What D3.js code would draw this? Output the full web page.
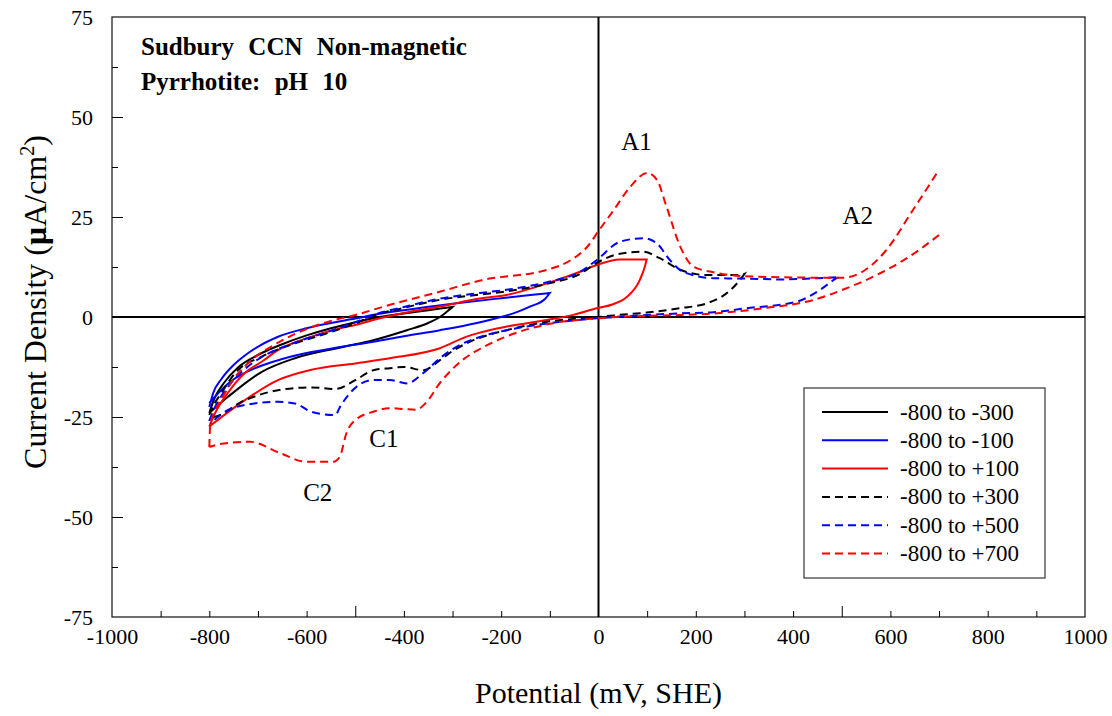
<!DOCTYPE html>
<html>
<head>
<meta charset="utf-8">
<script src="https://cdn.jsdelivr.net/npm/d3@7"></script>
<style>
  body { margin: 0; background: #fff; }
  svg text { font-family: "Liberation Serif", "Times New Roman", serif; fill: #000; }
</style>
</head>
<body>
<div id="chart"></div>
<script>
// cyclic voltammograms, potential (mV SHE) vs current density (uA/cm2)
// each sweep starts at -800, goes up to the limit, then comes back
const E_300 = [-800, -790, -770, -740, -700, -650, -600, -550, -500, -450, -400, -350, -300,
               -310, -326, -350, -394, -463, -530, -624, -692, -761, -800];
const I_300 = [-24, -20.5, -16.5, -12.5, -9.5, -6.8, -4.6, -2.8, -1.3, 0, 0.9, 1.7, 2.5,
               1.5, 0, -1.5, -3.3, -5.8, -7.6, -10.3, -13.7, -19.9, -24];

const E_100n = [-800, -792, -775, -750, -720, -660, -600, -550, -500, -450, -400, -300, -200, -140, -100,
                -110, -141, -175, -210, -250, -326, -400, -463, -531, -600, -650, -700, -760, -800];
const I_100n = [-22.5, -19, -15.5, -12, -9, -5, -2.8, -1.5, -0.4, 0.8, 1.7, 3.3, 4.7, 5.5, 6,
                4.5, 2.6, 0.9, -0.3, -1.5, -3.3, -4.8, -6.2, -7.5, -9, -10.5, -12.5, -16.5, -21.5];

const E_100p = [-800, -788, -762, -727, -690, -659, -590, -531, -500, -463, -400, -326, -244, -189, -106, -38, -4, 44, 99,
                95, 85, 58, 30, -4, -50, -106, -189, -244, -271, -326, -429, -500, -590, -659, -727, -800];
const I_100p = [-27.4, -24, -19, -14, -11, -8.3, -4.9, -2.8, -2, -0.75, 1, 2.6, 4.6, 5.5, 8.4, 11.3, 13, 14.4, 14.4,
                12.5, 9.3, 5, 3.2, 2.2, 0.6, -0.75, -2.4, -3.9, -4.9, -7.8, -10.3, -11.6, -13.2, -15.8, -20.8, -27.4];

const E_300p = [-800, -795, -775, -747, -692, -624, -556, -500, -463, -400, -326, -244, -189, -106, -38, -4, 44, 92, 126, 168, 222, 291, 300,
                291, 263, 222, 168, 99, 30, 0, -106, -189, -257, -300, -326, -360, -400, -429, -463, -500, -541, -590, -659, -727, -795, -800];
const I_300p = [-24.5, -23, -19, -14, -9.9, -6.6, -4, -1.6, 0.3, 2.3, 4.3, 5.6, 6.4, 8.3, 10.8, 13.5, 15.8, 16.3, 14.7, 11.8, 10.5, 10.5, 10.8,
                9.3, 5.9, 3.4, 2.2, 1.1, 0.4, 0, -1.2, -3.3, -5.8, -8.5, -10.8, -13.3, -12.5, -12.8, -13.3, -15.8, -18, -17.6, -18.3, -20.8, -25, -25];

const E_500p = [-800, -790, -762, -727, -692, -624, -556, -500, -463, -400, -326, -244, -189, -106, -38, -4, 44, 92, 120, 147, 174, 236, 305, 373, 450, 496,
                490, 455, 407, 305, 236, 168, 99, 0, -106, -189, -244, -291, -326, -360, -394, -429, -463, -497, -531, -541, -590, -624, -659, -727, -762, -798];
const I_500p = [-26, -23, -17.5, -13, -10, -6.4, -3.7, -1.3, 0.5, 2.5, 4.6, 6, 6.8, 8.7, 11.3, 14.2, 18.8, 19.7, 18.4, 14.2, 11.3, 9.7, 9.6, 9.4, 9.7, 10,
                9.7, 6.75, 3.8, 2.2, 1.2, 0.9, 0.5, -0.3, -1.6, -3.3, -5, -7.4, -10.3, -14, -16.6, -15.75, -15.75, -17.4, -22.4, -24.5, -23.7, -21.6, -21.2, -22, -23.3, -26.6];

const E_700p = [-800, -798, -790, -770, -750, -720, -660, -600, -550, -500, -430, -330, -240, -100, -60, -20, 0, 30, 65, 100, 120, 140, 168, 195, 236, 300, 400, 500, 545, 590, 645, 700,
                700, 650, 580, 510, 440, 340, 250, 168, 100, 0, -100, -190, -244, -280, -326, -355, -375, -400, -430, -463, -497, -518, -532, -545, -600, -655, -716, -770, -800];
const I_700p = [-32.5, -27, -24, -19.5, -15.5, -11.5, -6.5, -3, -1, 0.5, 3, 6.2, 9.2, 12, 14, 18, 21.5, 26.5, 32.5, 36, 34.3, 27.5, 17.6, 12.6, 11.2, 10.2, 9.9, 9.8, 11.5, 16.5, 26.5, 36.8,
                20.5, 16, 11, 7.2, 4.2, 2.2, 1, 0.5, 0.3, -0.3, -1.7, -4.9, -8, -10.8, -16.5, -21.5, -23.2, -23, -22.8, -23.7, -25.5, -29, -35, -36.2, -36.2, -34, -31.2, -31.6, -32.5];

const seriesNames = ['-800 to -300', '-800 to -100', '-800 to +100', '-800 to +300', '-800 to +500', '-800 to +700'];
const seriesE = [E_300, E_100n, E_100p, E_300p, E_500p, E_700p];
const seriesI = [I_300, I_100n, I_100p, I_300p, I_500p, I_700p];
const seriesColor = ['#000000', '#0000ff', '#ff0000', '#000000', '#0000ff', '#ff0000'];
const seriesDashed = [false, false, false, true, true, true];

const xTickLabels = [-1000, -800, -600, -400, -200, 0, 200, 400, 600, 800, 1000];
const yTickLabels = [-75, -50, -25, 0, 25, 50, 75];
const peakNames = ['A1', 'A2', 'C1', 'C2'];
const peakE = [78, 533, -441, -577];
const peakI = [44, 25.5, -30.3, -43.8];

const serif = '"Liberation Serif", "Times New Roman", serif';

var chart = {
  width: 1112,
  height: 716,
  left: 112,
  right: 1085,
  top: 17,
  bottom: 617,
};

const x = d3.scaleLinear().domain([-1000, 1000]).range([chart.left, chart.right]);
const y = d3.scaleLinear().domain([-75, 75]).range([chart.bottom, chart.top]);

const svg = d3.select('#chart')
              .append('svg')
              .attr('width', chart.width)
              .attr('height', chart.height)
              .attr('font-family', serif);

// frame
svg.append('rect')
   .attr('x', chart.left)
   .attr('y', chart.top)
   .attr('width', chart.right - chart.left)
   .attr('height', chart.bottom - chart.top)
   .attr('fill', 'none')
   .attr('stroke', '#222')
   .attr('stroke-width', 1.3);

// minor and major ticks, pointing inward
const xMinor = d3.range(-900, 1000, 100).filter(v => v % 500 !== 0);
const xMajor = [-500, 500];
svg.append('g')
   .attr('transform', `translate(0, ${chart.bottom})`)
   .call(d3.axisBottom(x).tickValues(xMinor).tickSize(-6).tickFormat(''))
   .call(g => g.select('.domain').remove());
svg.append('g')
   .attr('transform', `translate(0, ${chart.bottom})`)
   .call(d3.axisBottom(x).tickValues(xMajor).tickSize(-11).tickFormat(''))
   .call(g => g.select('.domain').remove());
svg.append('g')
   .attr('transform', `translate(0, ${chart.bottom})`)
   .call(d3.axisBottom(x).tickValues(xTickLabels).tickSize(0).tickPadding(11).tickFormat(d => String(d)))
   .call(g => g.select('.domain').remove())
   .attr('font-family', serif)
   .attr('font-size', 22);

const yMinor = d3.range(-62.5, 75, 25);
const yMajor = [-50, -25, 25, 50];
svg.append('g')
   .attr('transform', `translate(${chart.left}, 0)`)
   .call(d3.axisLeft(y).tickValues(yMinor).tickSize(-6).tickFormat(''))
   .call(g => g.select('.domain').remove());
svg.append('g')
   .attr('transform', `translate(${chart.left}, 0)`)
   .call(d3.axisLeft(y).tickValues(yMajor).tickSize(-11).tickFormat(''))
   .call(g => g.select('.domain').remove());
svg.append('g')
   .attr('transform', `translate(${chart.left}, 0)`)
   .call(d3.axisLeft(y).tickValues(yTickLabels).tickSize(0).tickPadding(19).tickFormat(d => String(d)))
   .call(g => g.select('.domain').remove())
   .attr('font-family', serif)
   .attr('font-size', 22);

// zero lines
svg.append('line')
   .attr('x1', chart.left).attr('x2', chart.right)
   .attr('y1', y(0)).attr('y2', y(0))
   .attr('stroke', '#000').attr('stroke-width', 2);
svg.append('line')
   .attr('x1', x(0)).attr('x2', x(0))
   .attr('y1', chart.top).attr('y2', chart.bottom)
   .attr('stroke', '#000').attr('stroke-width', 2);

// curves: forward sweep and return sweep drawn as one path, split at the upper limit
const line = d3.line()
               .x(d => x(d[0]))
               .y(d => y(d[1]))
               .curve(d3.curveMonotoneX);

function sweepPath(E, I) {
  const pts = E.map((e, j) => [e, I[j]]);
  const top = d3.max(E);
  const first = E.indexOf(top);
  const last = E.lastIndexOf(top);
  const fwd = line(pts.slice(0, first + 1));
  const back = line(pts.slice(last));
  // same point: continue the pen, two ends at the limit: lift it
  return fwd + (first === last ? back.replace(/^M/, 'L') : back);
}

const plot = svg.append('g');
seriesE.forEach((E, i) => {
  plot.append('path')
      .attr('d', sweepPath(E, seriesI[i]))
      .attr('fill', 'none')
      .attr('stroke', seriesColor[i])
      .attr('stroke-width', 2)
      .attr('stroke-dasharray', seriesDashed[i] ? '8,5' : null);
});

// peak labels
svg.selectAll('.peak')
   .data(peakNames)
   .enter()
   .append('text')
   .attr('class', 'peak')
   .attr('x', (d, i) => x(peakE[i]))
   .attr('y', (d, i) => y(peakI[i]))
   .attr('text-anchor', 'middle')
   .attr('dy', '0.35em')
   .attr('font-size', 25)
   .text(d => d);

// title in the corner
const title = svg.append('g').attr('font-weight', 'bold').attr('font-size', 25);
title.append('text').attr('x', 141).attr('y', 55).attr('word-spacing', '8px').text('Sudbury CCN Non-magnetic');
title.append('text').attr('x', 141).attr('y', 90).attr('word-spacing', '8px').text('Pyrrhotite: pH 10');

// axis titles
svg.append('text')
   .attr('x', x(0))
   .attr('y', 703)
   .attr('text-anchor', 'middle')
   .attr('font-size', 30)
   .text('Potential (mV, SHE)');

const yTitle = svg.append('text')
   .attr('transform', `translate(46, 302) rotate(-90)`)
   .attr('text-anchor', 'middle')
   .attr('font-size', 32);
yTitle.append('tspan').text('Current Density (');
yTitle.append('tspan').attr('font-weight', 'bold').text('\u03bc');
yTitle.append('tspan').text('A/cm');
yTitle.append('tspan').attr('dy', '-12').attr('font-size', 20).text('2');
yTitle.append('tspan').attr('dy', '12').text(')');

// legend
const legend = svg.append('g').attr('transform', 'translate(804, 388)');
legend.append('rect')
      .attr('width', 241)
      .attr('height', 190)
      .attr('fill', '#fff')
      .attr('stroke', '#333')
      .attr('stroke-width', 1.2);
const row = legend.selectAll('.row')
                  .data(seriesNames)
                  .enter()
                  .append('g')
                  .attr('transform', (d, i) => `translate(0, ${24 + i * 28.3})`);
row.append('line')
   .attr('x1', 18).attr('x2', 84)
   .attr('stroke', (d, i) => seriesColor[i])
   .attr('stroke-width', 2)
   .attr('stroke-dasharray', (d, i) => seriesDashed[i] ? '8,5' : null);
row.append('text')
   .attr('x', 96)
   .attr('dy', '0.33em')
   .attr('font-size', 23)
   .text(d => d);
</script>
</body>
</html>
